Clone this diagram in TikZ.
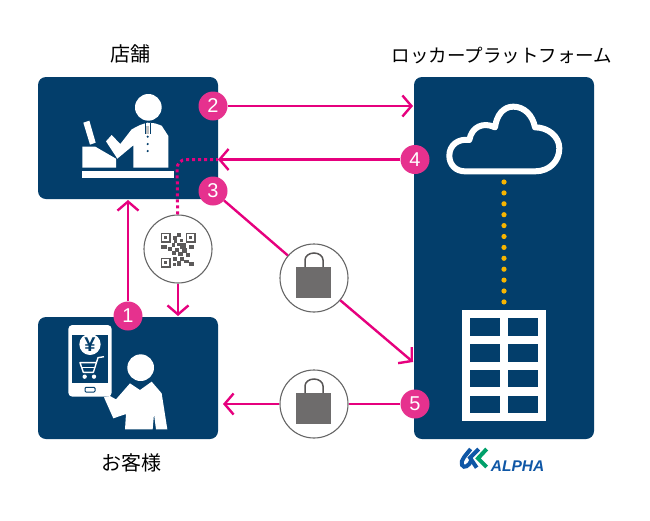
\documentclass[tikz,border=0pt]{standalone}
\usepackage{fontspec}
\usetikzlibrary{arrows.meta}
\setmainfont{Noto Sans CJK JP}
\newfontfamily\logofont{Liberation Sans}
\definecolor{navy}{HTML}{033E6B}
\definecolor{pinkline}{HTML}{E6007E}
\definecolor{badgefill}{HTML}{E6318E}
\definecolor{dotorange}{HTML}{F8B500}
\definecolor{baggray}{HTML}{6E6C6C}
\definecolor{qrgray}{HTML}{5C5A5A}
\definecolor{logoblue}{HTML}{0F57A6}
\definecolor{logogreen}{HTML}{00A06A}
\tikzset{
  x=1pt,y=-1pt,
  panel/.style={fill=navy,draw=none,rounded corners=8pt},
  heading/.style={font=\fontsize{20}{20}\selectfont,text=black,inner sep=0pt},
  kanaheading/.style={font=\fontsize{18.5}{18.5}\selectfont,text=black,inner sep=0pt},
  badge/.style={circle,fill=badgefill,text=white,minimum size=29pt,inner sep=0pt,font=\logofont\fontsize{20}{20}\selectfont},
  flow/.style={draw=pinkline,line width=2.4pt,-{Straight Barb[length=9pt,width=21pt,line width=2.4pt]}},
  plainflow/.style={draw=pinkline,line width=2.4pt},
  dottedflow/.style={draw=pinkline,line width=3pt,dash pattern=on 3pt off 3pt,rounded corners=9pt},
  holder/.style={circle,fill=white,draw=gray!80!black,line width=1.1pt,minimum size=68pt,inner sep=0pt},
  icon/.style={fill=white,draw=none},
  bagbody/.style={fill=baggray,draw=none},
  baghandle/.style={draw=baggray!80!black,line width=1.5pt,fill=none}
}
\newcommand{\shoppingbag}[1]{%
  \begin{scope}[shift={(#1)}]
    \path[bagbody] (-18,-11) rectangle (17,20);
    \draw[baghandle] (-9,-11) -- (-9,-18) arc[start angle=180,end angle=0,x radius=9,y radius=-7] -- (9,-11);
  \end{scope}}
\begin{document}
\begin{tikzpicture}
\useasboundingbox (0,0) rectangle (650,520);
\fill[white] (0,0) rectangle (650,520);

% Panels
\path[panel] (38,77) rectangle (218,199);
\path[panel] (38,317) rectangle (218,439);
\path[panel] (414,77) rectangle (594,439);
\coordinate (shopbottom) at (128,200);
\coordinate (shopright) at (218,159.5);
\coordinate (customertop) at (178,316);
\coordinate (customerright) at (223,404);
\coordinate (platform2) at (413,106);
\coordinate (platform3) at (413,362);
\coordinate (dashcorner) at (177,159.5);

% Headings
\node[heading] (shoptitle) at (130,54) {店舗};
\node[kanaheading] (platformtitle) at (502,56) {ロッカープラットフォーム};
\node[heading] (customertitle) at (131,463) {お客様};

% Shop clerk and register
\begin{scope}[shift={(30,70)},scale=1/3]
  \fill[white] (355,112) circle (40);
  \path[icon] (310,293) -- (310,226) -- (262,266) -- (228,214) -- (245,195) -- (271,222)
    -- (305,178) -- (330,165) -- (352,158) -- (375,160) -- (395,167)
    -- (415,198) -- (415,293) -- cycle;
  \draw[navy,line width=.7pt] (345,160) -- (345,192) (361,160) -- (361,192);
  \fill[gray!50] (349,168) rectangle (357,191);
  \foreach \yy in {200,222,243} \fill[navy] (353,\yy) circle (3.5);
  \path[icon] (157,230) -- (196,230) -- (258,266) -- (258,293) -- (157,293) -- cycle;
  \path[icon] (160,158) -- (178,152) -- (197,218) -- (180,224) -- cycle;
  \path[icon] (157,303) rectangle (432,323);
\end{scope}

% Customer with smartphone
\begin{scope}[shift={(30,210)},scale=1/3]
  \path[icon,rounded corners=4pt] (115,345) rectangle (245,560);
  \fill[navy] (125,375) rectangle (235,520);
  \draw[navy,line width=1pt,rounded corners=1pt] (165,532) rectangle (195,546);
  \fill[white] (180,403) circle (32);
  \node[text=navy,font=\logofont\fontsize{20}{20}\selectfont\bfseries,inner sep=0pt] (yen) at (180,404) {¥};
  \draw[white,line width=1.4pt,line join=round] (222,440) -- (204,443) -- (190,487) -- (160,487) -- (150,458) -- (198,458);
  \draw[white,line width=1.2pt] (156,473) -- (194,473);
  \fill[white] (164,500) circle (6.5) (192,500) circle (6.5);
  \fill[white] (332,473) circle (40);
  \path[icon] (285,658) -- (288,612) -- (250,625) -- (222,562) -- (240,558) -- (258,568)
    -- (300,520) -- (330,540) -- (365,515) -- (395,550) -- (412,658) -- (378,658)
    -- (372,612) -- (368,658) -- cycle;
\end{scope}

% Cloud
\begin{scope}[shift={(380,40)},scale=1/3]
  \draw[white,line width=6pt,line join=round]
    (255,394) -- (465,394)
    .. controls (510,394) and (538,362) .. (538,325)
    .. controls (538,290) and (505,262) .. (465,262)
    .. controls (458,225) and (432,200) .. (400,200)
    .. controls (370,200) and (350,225) .. (345,262)
    .. controls (310,245) and (275,260) .. (268,300)
    .. controls (235,295) and (208,315) .. (208,347)
    .. controls (208,375) and (228,394) .. (255,394) -- cycle;
\end{scope}

% Link between cloud and lockers
\foreach \i in {0,...,11} \fill[dotorange] (504,{182+\i*10.9}) circle (2.6);

% Locker
\begin{scope}[shift={(260,230)},scale=1/3]
  \path[icon] (607,241) rectangle (858,574);
  \foreach \xx in {630,745} \foreach \yy in {265,342,419,497}
    \fill[navy] (\xx,\yy) rectangle ++(90,53);
\end{scope}

% Circles on the flows
\node[holder] (qr) at (178,249) {};
\node[holder] (bagA) at (314,278) {};
\node[holder] (bagB) at (314,404) {};
\shoppingbag{314,278}
\shoppingbag{314,404}

% QR code modules
\begin{scope}[shift={(160.5,232.5)}]
  \foreach \cx/\cy in {0/0,25/0,0/25} {
    \draw[qrgray,line width=1.5pt] (\cx+.75,\cy+.75) rectangle ++(8.5,8.5);
    \fill[qrgray] (\cx+3.3,\cy+3.3) rectangle ++(3.4,3.4);
  }
  \foreach \cx/\cy/\cw/\ch in {16/0/4/4,12/3/4/4,19/6/3/3,13/7/3/3,11/10/3/4,16/10/9/3,19/10/6/6,0/12/6/4,28/12/5/4,7/14/4/4,14/15/4/4,21/15/5/5,11/18/4/4,17/19/5/4,25/20/4/4,12/24/4/4,19/24/4/4,16/28/4/5,23/27/5/3,28/29/5/4,12/30/3/3}
    \fill[qrgray] (\cx,\cy) rectangle ++(\cw,\ch);
\end{scope}

% Badges
\node[badge] (one) at (128,316) {1};
\node[badge] (two) at (213,106) {2};
\node[badge] (three) at (213,191) {3};
\node[badge] (four) at (415,159.5) {4};
\node[badge] (five) at (415,404) {5};

% Flows
\draw[flow] (two) -- (platform2);
\draw[flow] (four) -- (shopright);
\draw[flow] (one) -- (shopbottom);
\draw[plainflow] (three) -- (bagA);
\draw[flow] (bagA) -- (platform3);
\draw[plainflow] (five) -- (bagB);
\draw[flow] (bagB) -- (customerright);
\draw[flow] (qr) -- (customertop);
\draw[dottedflow] (qr) -- (dashcorner) -- (shopright);

% Logo
\begin{scope}[shift={(450,445)},scale=1/3]
  \draw[logoblue,line width=4pt] (62,12) .. controls (50,28) and (30,45) .. (36,60) .. controls (42,72) and (58,62) .. (64,46);
  \draw[logoblue,line width=4pt] (86,12) -- (60,38) -- (80,68);
  \draw[logogreen,line width=4pt] (110,12) -- (84,40) -- (110,66);
  \node[anchor=west,text=logoblue,font=\logofont\fontsize{15.5}{15.5}\selectfont\bfseries\itshape,inner sep=0pt] (logotext) at (122,64) {ALPHA};
\end{scope}
\end{tikzpicture}
\end{document}
